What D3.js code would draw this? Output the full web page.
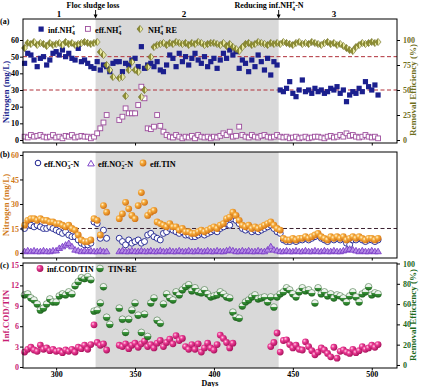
<!DOCTYPE html>
<html>
<head>
<meta charset="utf-8">
<title>Nitrogen removal</title>
<script src="https://d3js.org/d3.v7.min.js"></script>
<style>
  body { margin: 0; background: #fff; }
  svg { font-family: "Liberation Serif", "Times New Roman", serif; font-weight: bold; }
</style>
</head>
<body>
<svg></svg>
<script>
// sampling days (shared by every series)
var days = [280,282,284,286,288,290,292,294,296,298,
  300,302,304,306,308,310,312,314,316,318,
  320,322,324,326,328,330,332,334,336,338,
  340,342,344,346,348,350,352,354,356,358,
  360,362,364,366,368,370,372,374,376,378,
  380,382,384,386,388,390,392,394,396,398,
  400,402,404,406,408,410,412,414,416,418,
  420,422,424,426,428,430,432,434,436,438,
  440,442,444,446,448,450,452,454,456,458,
  460,462,464,466,468,470,472,474,476,478,
  480,482,484,486,488,490,492,494,496,498,
  500,502,504];

// (a) mg/L and %
var infNH4 = [46,52,51,48,44,49,50,45,48,52,
  53,51,54,50,52,49,48,55,47,48,
  46,44,43,47,42,45,44,41,46,47,
  47,41,46,45,48,49,44,56,43,45,
  46,44,47,42,41,45,51,49,44,52,
  47,50,45,49,52,48,46,50,44,47,
  49,43,48,52,49,54,51,53,43,48,
  46,41,48,44,51,47,42,49,39,47,
  45,30,29,31,35,28,26,30,36,29,
  30,28,31,29,30,28,29,31,30,32,
  28,30,23,27,29,28,31,29,35,32,
  30,33,27];
var effNH4 = [2,1.5,3,2,2.5,3,2,1.5,2,3,
  1.5,2,1,2.5,2,3,1.5,2,2.5,2,
  2,1,2,4,7,10.5,15,null,null,null,
  12,14,19,16,16,16,21,32,25,7,
  6.5,8,15,8.5,5,3,2,1.5,3,2,
  1,2,1.5,2.5,1,3,2,1.5,2,1,
  2,1.5,2.5,4,3,5,2,2.5,8,3,
  2,1.5,3,2,1.5,2.5,3,2,1.5,2,
  3,2,1.5,2,1,1.5,2,1,1.5,2,
  1,1.5,2,2,1.5,1,2,2.5,1.5,2,
  3,2,4,2.5,3,2,1.5,2,3,2,
  1.5,2,1];
var reNH4 = [92,97,96,98,95,97,96,94,97,95,
  96,97,95,98,96,97,95,96,97,98,
  97,96,97,98,88,85,75,70,63,null,
  62,63,44,70,78,70,68,43,50,73,
  83,93,95,96,97,95,97,96,98,97,
  96,97,95,97,96,98,97,95,96,97,
  97,96,95,97,94,96,93,91,89,93,
  96,97,95,96,98,97,96,95,97,96,
  97,96,98,97,96,95,97,98,96,97,
  96,98,97,96,95,97,98,96,97,95,
  96,94,92,90,89,93,95,97,96,97,
  98,97,98];

// (b) mg/L
var effNO3 = [15,17,17,16,17,16,15,15,16,15,
  14,13,12,13,11,10,10,8,6,5,
  5,6,19,18,9,14,9,null,null,null,
  9,7,5,8,6,7,8,6,7,11,
  12,10,9,8,12,13,15,14,13,12,
  13,11,11,10,10,11,12,11,12,13,
  14,13,15,16,18,17,21,20,18,15,
  14,15,13,14,13,14,15,16,17,15,
  13,12,8,7,7,8,7,8,8,9,
  8,9,10,11,9,8,7,9,8,9,
  8,9,6,5,8,8,9,8,7,8,
  8,7,8];
var effNO2 = [1,1.5,1,1.5,1,1,1.5,1,1,1.5,
  1.5,3,4,5,6,4,2,1.5,1,1.5,
  1,1.5,1,1,1.5,1,1,null,null,null,
  1,1.5,1,1,1.5,1,1,1.5,1,1,
  1.5,1,1,1.5,1,1,1.5,1,1,1.5,
  1,1,1.5,1,1,1.5,1,1,1.5,1,
  1,1.5,1,1,1.5,2,1.5,1,1,1.5,
  1,1.5,1,1,1.5,1,1,2,4,2,
  1.5,1,1,1.5,1,1,1.5,1,1,1.5,
  1,1,1.5,1,1,1.5,1,1,1.5,1,
  1,1.5,2,2.5,2,1.5,1,1.5,1,1,
  1.5,1,1];
var effTIN = [17,20,21,21,20,21,20,20,19,19,
  18,18,17,16,17,15,14,11,8,7,
  7,8,21,20,11,29,25,null,null,null,
  21,24,31,27,23,21,29,37,31,23,
  25,26,19,18,17,16,18,16,16,14,
  15,13,13,12,12,13,14,13,14,15,
  16,15,17,18,21,22,25,23,20,17,
  16,17,15,16,15,16,17,18,19,17,
  15,14,9,8,8,9,8,9,9,10,
  9,10,11,12,10,9,8,10,9,10,
  9,10,8,9,10,9,10,9,8,9,
  9,8,9];

// (c) ratio and %
var codTIN = [2.2,2.6,2.9,2.5,2.3,3.2,2.6,2.8,2.4,2.6,
  2.3,2.4,2.1,2.5,2.3,2.6,2.2,2.9,2.7,3.2,
  2.6,3.3,6.2,3.6,3.2,3.4,2.5,null,null,null,
  3.2,3.0,3.4,2.7,3.2,3.5,2.9,3.4,3.8,3.0,
  3.3,2.8,3.5,3.9,3.0,3.6,4.1,3.4,4.6,3.9,
  4.2,3.0,2.6,3.3,2.6,3.4,2.2,2.8,3.5,2.8,
  2.5,3.3,4.7,4.2,3.6,2.8,3.5,null,null,null,
  null,null,null,null,null,null,null,null,3.0,3.6,
  5.0,2.2,3.9,4.0,3.3,2.8,3.2,2.6,2.5,3.7,
  3.0,2.4,1.8,2.2,2.8,2.5,2.0,1.5,2.9,1.3,
  2.3,2.5,2.2,2.0,2.6,2.1,2.4,3.0,2.6,2.8,
  3.2,2.9,3.3];
var tinRE = [69,70,66,64,60,54,56,60,65,62,
  62,68,70,69,72,70,78,82,86,85,
  87,84,53,54,61,77,47,40,null,null,
  56,45,32,45,54,61,49,32,50,28,
  61,66,44,41,60,70,66,64,72,69,
  74,77,79,73,76,72,71,74,70,67,
  68,69,72,70,67,66,52,47,46,58,
  62,64,67,69,65,66,67,62,67,57,
  67,70,72,76,74,70,67,72,76,73,
  74,71,61,76,70,72,68,70,66,69,
  68,66,62,68,72,67,62,70,72,77,
  69,71,70];

var xTicks = [300, 350, 400, 450, 500];
var phaseStart = 325, phaseEnd = 441;

var svg = d3.select("svg").attr("width", 422).attr("height", 387);

var defs = svg.append("defs");
function radial(id, c0, c1, c2) {
  var g = defs.append("radialGradient").attr("id", id)
    .attr("cx", "35%").attr("cy", "35%").attr("r", "70%");
  g.append("stop").attr("offset", "0").attr("stop-color", c0);
  g.append("stop").attr("offset", "0.35").attr("stop-color", c1);
  g.append("stop").attr("offset", "1").attr("stop-color", c2);
}
radial("ballOrange", "#fff4d6", "#f6ac3c", "#cf6e12");
radial("ballPink", "#ffd3e8", "#ec3b95", "#a40f58");
var gg = defs.append("linearGradient").attr("id", "ballGreen")
  .attr("x1", 0).attr("y1", 0).attr("x2", 0).attr("y2", 1);
[["0", "#ffffff"], ["0.45", "#e4eee4"], ["0.5", "#3f9a3f"], ["1", "#1c6a1c"]].forEach(function(s) {
  gg.append("stop").attr("offset", s[0]).attr("stop-color", s[1]);
});
var dg = defs.append("linearGradient").attr("id", "diam")
  .attr("x1", 0).attr("y1", 0).attr("x2", 1).attr("y2", 0);
[["0", "#8e8e34"], ["0.5", "#8e8e34"], ["0.5", "#e8e8a4"], ["1", "#e8e8a4"]].forEach(function(s) {
  dg.append("stop").attr("offset", s[0]).attr("stop-color", s[1]);
});

var x = d3.scaleLinear().domain([279, 516]).range([23, 397]);

var yA = d3.scaleLinear().domain([-1.8, 72.6]).range([143, 19]);
var yAr = d3.scaleLinear().domain([-3, 121]).range([143, 19]);
var yB = d3.scaleLinear().domain([-3.06, 61.8]).range([258, 152]);
var yC = d3.scaleLinear().domain([-0.15, 15.3]).range([368, 263]);
var yCr = d3.scaleLinear().domain([-3, 100.5]).range([368, 263]);

function pts(vals) {
  return days.map(function(d, i) { return {d: d, v: vals[i]}; })
    .filter(function(p) { return p.v != null; });
}

function panelBg(y) {
  var r = y.range();
  svg.append("rect")
    .attr("x", x(phaseStart)).attr("y", r[1])
    .attr("width", x(phaseEnd) - x(phaseStart)).attr("height", r[0] - r[1])
    .attr("fill", "#d9d9d9");
}
function panelFrame(y) {
  var r = y.range();
  svg.append("rect")
    .attr("x", x.range()[0]).attr("y", r[1])
    .attr("width", x.range()[1] - x.range()[0]).attr("height", r[0] - r[1])
    .attr("fill", "none").attr("stroke", "#000").attr("stroke-width", 1);
}
function dashed(y, v, color) {
  svg.append("line")
    .attr("x1", x.range()[0]).attr("x2", x.range()[1])
    .attr("y1", y(v)).attr("y2", y(v))
    .attr("stroke", color).attr("stroke-width", 1).attr("stroke-dasharray", "4,2.5");
}
function styleAxis(g, color) {
  g.select(".domain").remove();
  g.selectAll(".tick line").attr("stroke", "#000");
  g.selectAll("text").attr("fill", color)
    .attr("font-family", "Liberation Serif, serif").attr("font-weight", "bold").attr("font-size", 8);
}
function leftAxis(y, ticks, color) {
  var g = svg.append("g").attr("transform", "translate(" + x.range()[0] + ",0)")
    .call(d3.axisLeft(y).tickValues(ticks).tickSize(3).tickPadding(1));
  styleAxis(g, color);
}
function rightAxis(y, ticks, color) {
  var g = svg.append("g").attr("transform", "translate(" + x.range()[1] + ",0)")
    .call(d3.axisRight(y).tickValues(ticks).tickSize(3).tickPadding(3));
  styleAxis(g, color);
}
function bottomAxis(y, labels) {
  var ax = d3.axisBottom(x).tickValues(xTicks).tickSize(2.5).tickPadding(1);
  if (!labels) ax.tickFormat("");
  var g = svg.append("g").attr("transform", "translate(0," + y.range()[0] + ")").call(ax);
  styleAxis(g, "#000");
}
function vlabel(tx, ty, txt, color) {
  svg.append("text").attr("transform", "translate(" + tx + "," + ty + ") rotate(-90)")
    .attr("text-anchor", "middle").attr("font-size", 9).attr("fill", color).text(txt);
}
// rich text: parts = [text, kind, dx]; kind "b" sub, "p" sup
function rich(sel, parts) {
  var shift = 0;
  parts.forEach(function(p) {
    var target = p[1] === "b" ? 2.5 : p[1] === "p" ? -3.2 : 0;
    var t = sel.append("tspan").text(p[0]).attr("dy", target - shift);
    if (p[2]) t.attr("dx", p[2]);
    if (p[1]) t.attr("font-size", "0.7em");
    shift = target;
  });
}
function legendText(tx, ty, parts) {
  var t = svg.append("text").attr("x", tx).attr("y", ty).attr("font-size", 8.2).attr("fill", "#000");
  rich(t, parts);
}

var diamond = "M0,-3.6L3,0L0,3.6L-3,0Z";
var tri = "M0,-3.2L3.3,2.4L-3.3,2.4Z";

// ---------- panel (a) ----------
panelBg(yA);
dashed(yA, 50, "#b0303a");
dashed(yA, 30, "#b0303a");

svg.append("g").selectAll("rect").data(pts(infNH4)).enter().append("rect")
  .attr("x", function(p) { return x(p.d) - 2.6; })
  .attr("y", function(p) { return yA(p.v) - 2.6; })
  .attr("width", 5.2).attr("height", 5.2)
  .attr("fill", "#1b1f8e");
svg.append("g").selectAll("rect").data(pts(effNH4)).enter().append("rect")
  .attr("x", function(p) { return x(p.d) - 2.4; })
  .attr("y", function(p) { return yA(p.v) - 2.4; })
  .attr("width", 4.8).attr("height", 4.8)
  .attr("fill", "#fff").attr("stroke", "#9c4c9c").attr("stroke-width", 0.9);
svg.append("g").selectAll("path").data(pts(reNH4)).enter().append("path")
  .attr("d", diamond)
  .attr("transform", function(p) { return "translate(" + x(p.d) + "," + yAr(p.v) + ")"; })
  .attr("fill", "url(#diam)").attr("stroke", "#6a6a1e").attr("stroke-width", 0.6);

panelFrame(yA);
leftAxis(yA, [0, 10, 20, 30, 40, 50, 60], "#000");
rightAxis(yAr, [0, 25, 50, 75, 100], "#6f6f1c");
bottomAxis(yA, false);
vlabel(9, 92, "Nitrogen (mg/L)", "#1b1f8e");
vlabel(416, 90, "Removal  Efficiency (%)", "#6f6f1c");

// legend (a)
svg.append("rect").attr("x", 38.5).attr("y", 26.5).attr("width", 5.2).attr("height", 5.2).attr("fill", "#1b1f8e");
legendText(48, 32.5, [["inf.NH", ""], ["4", "b"], ["+", "p", -3]]);
svg.append("rect").attr("x", 85.5).attr("y", 26.5).attr("width", 4.8).attr("height", 4.8)
  .attr("fill", "#fff").attr("stroke", "#9c4c9c").attr("stroke-width", 0.9);
legendText(95, 32.5, [["eff.NH", ""], ["4", "b"], ["+", "p", -3]]);
svg.append("path").attr("d", diamond).attr("transform", "translate(140,29)")
  .attr("fill", "url(#diam)").attr("stroke", "#6a6a1e").attr("stroke-width", 0.6);
legendText(148, 32.5, [["NH", ""], ["4", "b"], ["+", "p", -3], [" RE", ""]]);

// ---------- panel (b) ----------
panelBg(yB);
dashed(yB, 15, "#3a2030");

svg.append("g").selectAll("circle").data(pts(effNO3)).enter().append("circle")
  .attr("cx", function(p) { return x(p.d); })
  .attr("cy", function(p) { return yB(p.v); })
  .attr("r", 3).attr("fill", "#fff").attr("stroke", "#1b1f8e").attr("stroke-width", 0.9);
svg.append("g").selectAll("path").data(pts(effNO2)).enter().append("path")
  .attr("d", tri)
  .attr("transform", function(p) { return "translate(" + x(p.d) + "," + yB(p.v) + ")"; })
  .attr("fill", "#b58ae6").attr("stroke", "#7434c4").attr("stroke-width", 0.8);
svg.append("g").selectAll("circle").data(pts(effTIN)).enter().append("circle")
  .attr("cx", function(p) { return x(p.d); })
  .attr("cy", function(p) { return yB(p.v); })
  .attr("r", 3.4).attr("fill", "url(#ballOrange)");

panelFrame(yB);
leftAxis(yB, [0, 15, 30, 45, 60], "#d07a18");
bottomAxis(yB, false);
vlabel(9, 205, "Nitrogen (mg/L)", "#d07a18");

svg.append("circle").attr("cx", 38).attr("cy", 163).attr("r", 2.8)
  .attr("fill", "#fff").attr("stroke", "#1b1f8e").attr("stroke-width", 1);
legendText(44, 166.5, [["eff.NO", ""], ["3", "b"], ["\u2212", "p", -3], ["-N", ""]]);
svg.append("path").attr("d", tri).attr("transform", "translate(91,163.5)")
  .attr("fill", "#fff").attr("stroke", "#7434c4").attr("stroke-width", 0.9);
legendText(98, 166.5, [["eff.NO", ""], ["2", "b"], ["\u2212", "p", -3], ["-N", ""]]);
svg.append("circle").attr("cx", 143).attr("cy", 163).attr("r", 3.4).attr("fill", "url(#ballOrange)");
legendText(150, 166.5, [["eff.TIN", ""]]);

// ---------- panel (c) ----------
panelBg(yC);

svg.append("g").selectAll("circle").data(pts(codTIN)).enter().append("circle")
  .attr("cx", function(p) { return x(p.d); })
  .attr("cy", function(p) { return yC(p.v); })
  .attr("r", 3.4).attr("fill", "url(#ballPink)");
svg.append("g").selectAll("circle").data(pts(tinRE)).enter().append("circle")
  .attr("cx", function(p) { return x(p.d); })
  .attr("cy", function(p) { return yCr(p.v); })
  .attr("r", 3.4).attr("fill", "url(#ballGreen)").attr("stroke", "#1c5a1c").attr("stroke-width", 0.5);

panelFrame(yC);
leftAxis(yC, [0, 3, 6, 9, 12, 15], "#c81e74");
rightAxis(yCr, [0, 20, 40, 60, 80, 100], "#1c6a1c");
bottomAxis(yC, true);
vlabel(9, 316, "Inf.COD/TIN", "#c81e74");
vlabel(416, 315, "Removal  Efficiency (%)", "#1c6a1c");
svg.append("text").attr("x", 210).attr("y", 386).attr("text-anchor", "middle")
  .attr("font-size", 8).text("Days");

svg.append("circle").attr("cx", 40).attr("cy", 268.5).attr("r", 3.4).attr("fill", "url(#ballPink)");
legendText(47, 272, [["inf.COD/TIN", ""]]);
svg.append("circle").attr("cx", 100).attr("cy", 268.5).attr("r", 3.4)
  .attr("fill", "url(#ballGreen)").attr("stroke", "#1c5a1c").attr("stroke-width", 0.5);
legendText(108, 272, [["TIN-RE", ""]]);

// panel letters
[["(a)", 24], ["(b)", 157], ["(c)", 268]].forEach(function(l) {
  svg.append("text").attr("x", 0).attr("y", l[1]).attr("font-size", 8).text(l[0]);
});

// phase annotations
function arrow(ax) {
  svg.append("line").attr("x1", ax).attr("x2", ax).attr("y1", 10).attr("y2", 16)
    .attr("stroke", "#000").attr("stroke-width", 0.9);
  svg.append("path").attr("d", "M" + (ax - 2) + ",14.5L" + (ax + 2) + ",14.5L" + ax + ",18.5Z").attr("fill", "#000");
}
svg.append("text").attr("x", 93).attr("y", 8).attr("text-anchor", "middle").attr("font-size", 8).text("Floc sludge loss");
arrow(x(phaseStart));
var rt = svg.append("text").attr("x", 269).attr("y", 8).attr("text-anchor", "middle").attr("font-size", 8);
rich(rt, [["Reducing inf.NH", ""], ["4", "b"], ["+", "p", -3], ["-N", ""]]);
arrow(x(phaseEnd));
[["1", 59], ["2", 184], ["3", 334]].forEach(function(p) {
  svg.append("text").attr("x", p[1]).attr("y", 17).attr("text-anchor", "middle").attr("font-size", 9).text(p[0]);
});
</script>
</body>
</html>
